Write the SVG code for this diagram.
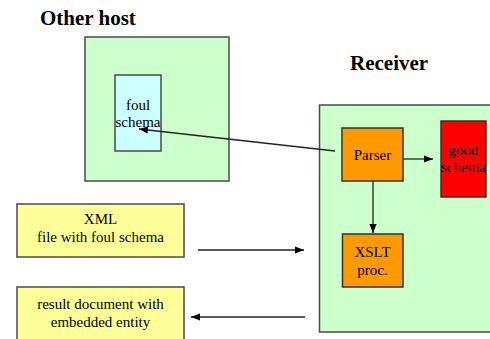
<svg xmlns="http://www.w3.org/2000/svg" width="490" height="339" viewBox="0 0 490 339">
  <defs>
    <style>
      .title { font-family: "Liberation Serif", "Times New Roman", serif; font-size: 21px; font-weight: bold; fill: #000; }
      .lbl { font-family: "Liberation Serif", "Times New Roman", serif; font-size: 15px; fill: #000; text-anchor: middle; }
      .host { fill: #ccffcc; stroke: #4a4a4a; stroke-width: 1.5; }
      .store { fill: #ccffff; stroke: #4a4a4a; stroke-width: 1.5; }
      .proc { fill: #ff9900; stroke: #333; stroke-width: 1.5; }
      .good { fill: #ff0000; stroke: #333; stroke-width: 1.5; }
      .doc { fill: #ffff99; stroke: #4a4a4a; stroke-width: 1.5; }
      .edge { fill: none; stroke: #222; stroke-width: 1.3; marker-end: url(#arrow); }
    </style>
    <marker id="arrow" viewBox="0 0 10 10" refX="10" refY="5" markerWidth="9" markerHeight="9" markerUnits="userSpaceOnUse" orient="auto">
      <path d="M0,1 L10,5 L0,9 Z" fill="#000"/>
    </marker>
  </defs>

  <text class="title" x="40" y="25">Other host</text>
  <text class="title" x="350" y="70">Receiver</text>

  <g id="other-host">
    <rect class="host" x="85" y="37" width="144" height="144"/>
  </g>
  <g id="foul-schema">
    <rect class="store" x="115" y="75" width="46" height="76"/>
    <text class="lbl" x="138" y="110">foul</text>
    <text class="lbl" x="138" y="127">schema</text>
  </g>

  <g id="receiver">
    <rect class="host" x="319.5" y="105" width="180" height="227"/>
  </g>
  <g id="parser">
    <rect class="proc" x="342" y="128" width="61" height="53"/>
    <text class="lbl" x="372.5" y="160">Parser</text>
  </g>
  <g id="good-schema">
    <rect class="good" x="441" y="121" width="45" height="76"/>
    <text class="lbl" x="463.5" y="155">good</text>
    <text class="lbl" x="463.5" y="172">schema</text>
  </g>
  <g id="xslt">
    <rect class="proc" x="342.5" y="234" width="60.5" height="53"/>
    <text class="lbl" x="372.5" y="257">XSLT</text>
    <text class="lbl" x="372.5" y="275">proc.</text>
  </g>

  <g id="xml-file">
    <rect class="doc" x="17" y="204" width="167" height="53"/>
    <text class="lbl" x="100.5" y="224">XML</text>
    <text class="lbl" x="100.5" y="242">file with foul schema</text>
  </g>
  <g id="result-doc">
    <rect class="doc" x="17" y="287" width="167" height="60"/>
    <text class="lbl" x="100.5" y="309">result document with</text>
    <text class="lbl" x="100.5" y="327">embedded entity</text>
  </g>

  <g id="connectors">
    <path class="edge" d="M335,151 L139,129"/>
    <path class="edge" d="M403,159 L433,159"/>
    <path class="edge" d="M373,181 L373,233"/>
    <path class="edge" d="M198,250 L304,250"/>
    <path class="edge" d="M305,317 L191,317"/>
  </g>
</svg>
